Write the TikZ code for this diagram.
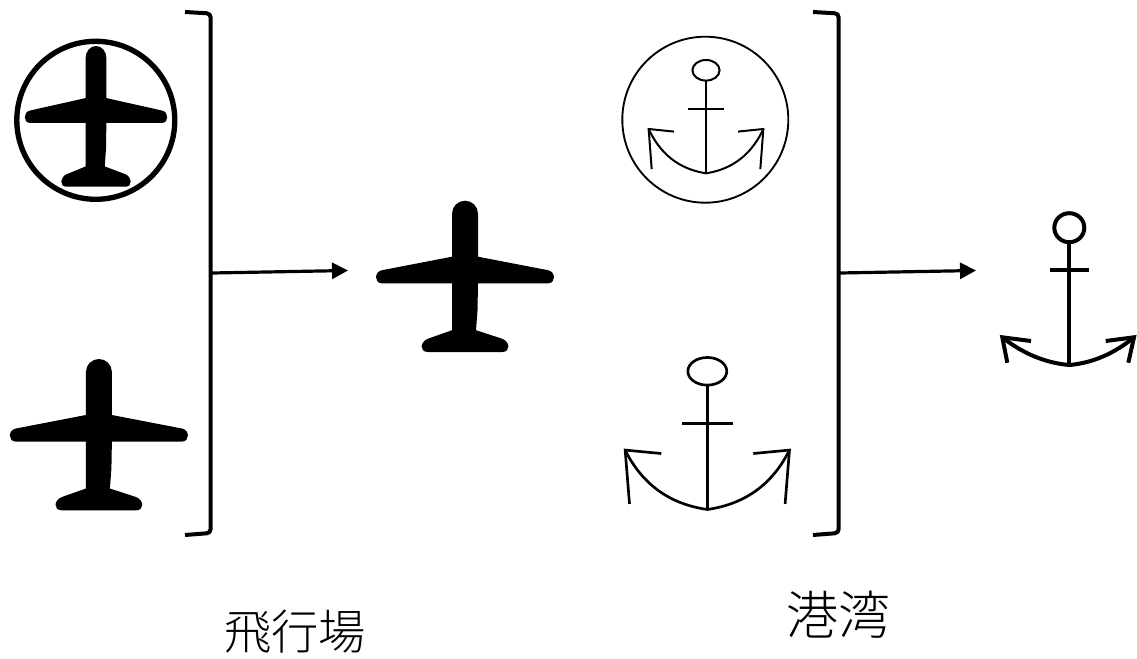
\documentclass[tikz,border=0pt]{standalone}
\usepackage{fontspec}
\newfontfamily\cjk{Noto Sans CJK JP Light}
\usetikzlibrary{arrows.meta}
\tikzset{
  plane/.pic={
    \fill (-13,13) arc [start angle=180, end angle=360, radius=13]
      -- (13,56) -- (83,69.5) .. controls (91,71) and (91,82.6) .. (83,82.6)
      -- (13,82.6) -- (12.5,110) -- (11,129.5) -- (37,138)
      .. controls (45,141) and (46,151.3) .. (37,151.3)
      -- (-37,151.3) .. controls (-46,151.3) and (-45,141) .. (-37,138)
      -- (-13,129.5) -- (-13,82.6) -- (-83,82.6)
      .. controls (-91,82.6) and (-91,71) .. (-83,69.5) -- (-13,56) -- cycle;
  },
  anchorsym/.pic={
    \draw (0,0) ellipse [x radius=0.237, y radius=0.1];
    \draw (0,0.1) -- (0,1);
    \draw (-0.31,0.378) -- (0.31,0.378);
    \draw (-0.56,0.595) -- (-1,0.57) -- (-0.947,0.96);
    \draw (0.56,0.595) -- (1,0.57) -- (0.947,0.96);
    \draw (-1,0.57) .. controls (-0.75,0.87) and (-0.35,0.97) .. (0,1)
      .. controls (0.35,0.97) and (0.75,0.87) .. (1,0.57);
  },
  bracket/.style={line width=3pt, rounded corners=3},
  flow/.style={-{Triangle[length=12pt,width=12pt]}, line width=2.4pt},
  label/.style={font=\cjk, inner sep=0pt}
}
\begin{document}
\begin{tikzpicture}[x=0.75pt, y=-0.75pt]
\useasboundingbox (0,0) rectangle (1137,659);
% planes
\node [circle, draw, line width=4pt, minimum size=118.5pt, inner sep=0pt] (ringA) at (95.8,120.3) {};
\pic (planeA) at (96,46) [xscale=0.8, yscale=0.93] {plane};
\pic (planeB) at (98.9,359) {plane};
\pic (planeC) at (465,200.7) {plane};
% anchors
\node [circle, draw, line width=1.4pt, minimum size=124.5pt, inner sep=0pt] (ringB) at (705.3,119.7) {};
\pic (anchorA) at (706,70.3) [xscale=57.35, yscale=103, line width=1.5pt] {anchorsym};
\pic (anchorB) at (707.3,371.3) [xscale=82.15, yscale=138.2, line width=2pt] {anchorsym};
% last anchor
\draw [line width=3pt] (1069.3,227.7) ellipse [x radius=15, y radius=14.5];
\draw [line width=3pt] (1069.3,243) -- (1069.3,365);
\draw [line width=3pt] (1050,270.3) -- (1089.3,270.3);
\draw [line width=3pt] (1031,341) -- (1002.3,337.3) -- (1007.3,362.7);
\draw [line width=3pt] (1105.7,341) -- (1134,337.3) -- (1128.3,362.7);
\draw [line width=3pt] (1002.3,337.3) .. controls (1022,353) and (1045,363) .. (1069.3,365)
  .. controls (1093,363) and (1115,353) .. (1134,337.3);
% brackets
\coordinate (topA) at (185,12);
\coordinate (botA) at (185,535);
\coordinate (topB) at (813,12);
\coordinate (botB) at (813,535);
\draw [bracket] (topA) -- (210.7,13.5) -- (210.7,533) -- (botA);
\draw [bracket] (topB) -- (838.7,13.5) -- (838.7,533) -- (botB);
% arrows
\coordinate (startA) at (212,273);
\coordinate (endA) at (348,270.5);
\coordinate (startB) at (840,273);
\coordinate (endB) at (976,270.5);
\draw [flow] (startA) -- (endA);
\draw [flow] (startB) -- (endB);
% labels
\node [label, font=\cjk\fontsize{35.5}{36}\selectfont] (airport) at (295,632) {飛行場};
\node [label, font=\cjk\fontsize{39}{39}\selectfont] (harbor) at (838,615) {港湾};
\end{tikzpicture}
\end{document}
